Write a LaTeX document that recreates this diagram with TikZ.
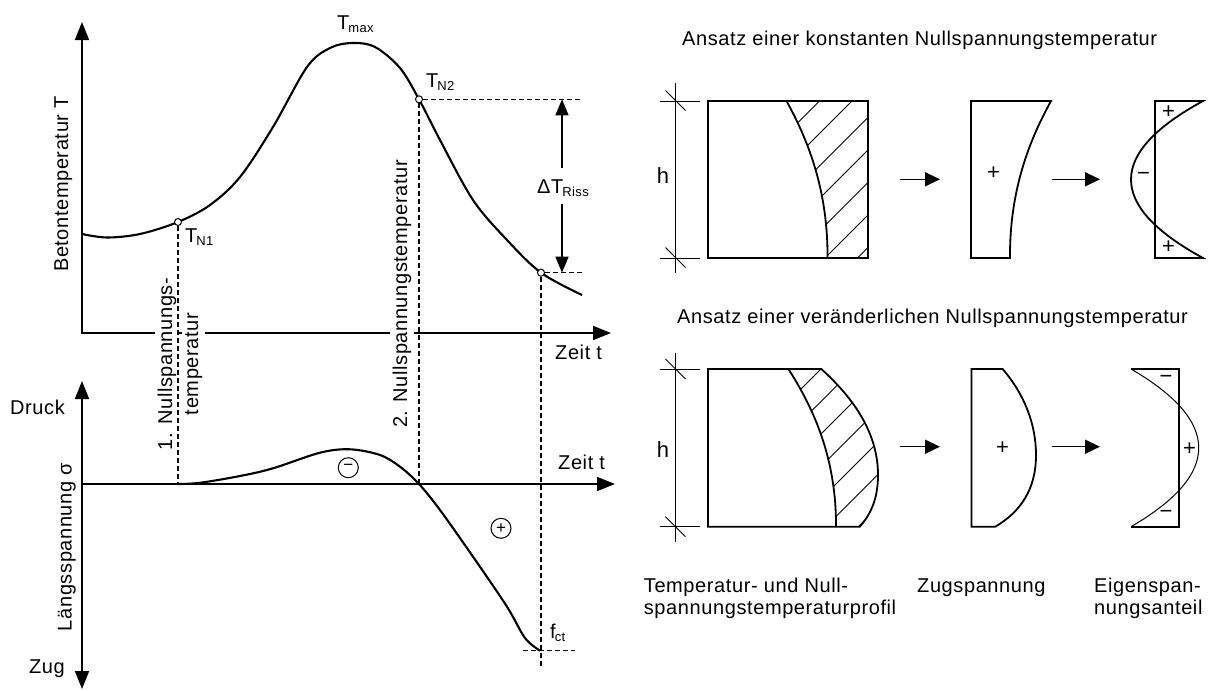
\documentclass[tikz,border=0pt]{standalone}
\usepackage{fontspec}
\setmainfont{Liberation Sans}[LetterSpace=3]
\usetikzlibrary{arrows.meta}
\newcommand\lsub[1]{\kern-1pt\raisebox{-3.5pt}{\fontsize{13}{13}\selectfont #1}}
\tikzset{
  every node/.style={inner sep=0pt, font=\fontsize{20}{23}\selectfont},
  axis/.style={line width=1.6pt, -{Triangle[length=18pt,width=14pt]}},
  axisboth/.style={line width=1.6pt, {Triangle[length=18pt,width=14pt]}-{Triangle[length=18pt,width=14pt]}},
  curve/.style={line width=2.1pt},
  dsh/.style={line width=1.1pt, dash pattern=on 5pt off 3pt},
  pt/.style={circle, draw, fill=white, line width=1pt, minimum size=7pt},
  rotlab/.style={rotate=90, anchor=base, fill=white, inner sep=3pt},
  dimarrow/.style={line width=1.4pt, -{Triangle[length=16pt,width=13pt]}},
  shapeline/.style={line width=1.8pt, line join=miter},
  hatchline/.style={line width=0.8pt},
  dimline/.style={line width=0.8pt},
  flowarrow/.style={line width=1.5pt, -{Triangle[length=15pt,width=14pt]}},
  circsign/.style={circle, draw, line width=1pt, minimum size=20pt, font=\fontsize{17}{17}\selectfont},
  sign/.style={font=\fontsize{22}{22}\selectfont},
  hlab/.style={font=\fontsize{22}{22}\selectfont},
}
\begin{document}
\begin{tikzpicture}[x=1pt,y=-1pt]
\path[use as bounding box] (0,0) rectangle (1208,691);
% ---------------- top graph ----------------
\coordinate (Y1) at (82,22);
\coordinate (O1) at (82,333);
\coordinate (X1) at (611,333);
\draw[axisboth] (Y1) -- (O1) -- (X1);
\draw[curve] plot[smooth, tension=0.55] coordinates {(82,234) (107,237.5) (140,234) (178,222) (210,205) (240,177) (273,127) (307,67) (330,48) (352,43) (375,47) (400,68) (419,99.3) (440,140) (473,200) (507,240) (541,272.7) (582,295)};
% ---------------- bottom graph ----------------
\coordinate (Y2t) at (82,381);
\coordinate (Y2b) at (82,689);
\coordinate (O2) at (82,484);
\coordinate (X2) at (615,484);
\draw[axisboth] (Y2t) -- (Y2b);
\draw[axis] (O2) -- (X2);
\draw[curve] plot[smooth, tension=0.55] coordinates {(178,484) (200,482.8) (240,476) (273,468.3) (320,452.7) (350,449.3) (380,455) (400,466.7) (419,484) (440,510) (473,556.7) (507,606.7) (525,638) (540,650.7)};
% rotated labels (white background interrupts the axis)
\node[rotlab] (nl1a) at (172,364) {1. Nullspannungs-};
\node[rotlab] (nl1b) at (198,364) {temperatur};
\node[rotlab] (nl2) at (407,294) {2. Nullspannungstemperatur};
\node[rotate=90, anchor=base] (ylab1) at (68,184) {Betontemperatur T};
\node[rotate=90, anchor=base] (ylab2) at (71.5,547) {Längsspannung σ};
% points
\node[pt] (N1) at (178,222) {};
\node[pt] (N2) at (419,99.3) {};
\node[pt] (N3) at (541,272.7) {};
\coordinate (Z1) at (178,484);
\coordinate (Z2) at (419,484);
\coordinate (Z3) at (541,668);
\coordinate (H2) at (582,99.3);
\coordinate (H3) at (582,272.7);
\coordinate (F1) at (523,650.7);
\coordinate (F2) at (575,650.7);
\draw[dsh] (N1) -- (Z1);
\draw[dsh] (N2) -- (Z2);
\draw[dsh] (N3) -- (Z3);
\draw[dsh] (N2) -- (H2);
\draw[dsh] (N3) -- (H3);
\draw[dsh] (F1) -- (F2);
% Delta T arrow
\node[anchor=base west] (dT) at (537,193) {ΔT\lsub{Riss}};
\coordinate (dA) at (562,99.3);
\coordinate (dAm) at (562,168);
\coordinate (dB) at (562,272.7);
\coordinate (dBm) at (562,204);
\draw[dimarrow] (dAm) -- (dA);
\draw[dimarrow] (dBm) -- (dB);
% labels
\node[anchor=base west] (tmax) at (337,29) {T\lsub{max}};
\node[anchor=base west] (tn2) at (426,87) {T\lsub{N2}};
\node[anchor=base west] (tn1) at (185,242) {T\lsub{N1}};
\node[anchor=base west] (fct) at (550,638) {f\lsub{ct}};
\node[anchor=base west] (zeit1) at (555,359) {Zeit t};
\node[anchor=base west] (zeit2) at (558,469) {Zeit t};
\node[anchor=base east] (druck) at (65,414) {Druck};
\node[anchor=base east] (zug) at (65,673) {Zug};
\node[circsign] (cminus) at (348.3,467.7) {−};
\node[circsign] (cplus) at (501,528.3) {+};
% ---------------- right, top ----------------
\node[anchor=base west] (title1) at (682,45) {Ansatz einer konstanten Nullspannungstemperatur};
\draw[dimline] (675.5,83) -- (675.5,273);
\draw[dimline] (660,101) -- (700,101);
\draw[dimline] (660,258) -- (700,258);
\draw[dimline] (665.5,90.5) -- (685.5,110.5);
\draw[dimline] (665.5,247.5) -- (685.5,267.5);
\node[hlab] (h1) at (663,176) {h};
\begin{scope}
  \clip (786.5,101) .. controls (808,140) and (828,190) .. (827.5,258) -- (868,258) -- (868,101) -- cycle;
  \foreach \k in {920.5,953,985.5,1018,1050.5,1083,1115.5}
    \draw[hatchline] ({\k-90},90) -- ({\k-270},270);
\end{scope}
\draw[shapeline] (708,101) rectangle (868,258);
\draw[shapeline] (786.5,101) .. controls (808,140) and (828,190) .. (827.5,258);
\coordinate (a1s) at (900,179.3);
\coordinate (a1e) at (940,179.3);
\draw[flowarrow] (a1s) -- (a1e);
\draw[shapeline] (971,258) -- (971,101) -- (1051,101) .. controls (1029.5,140) and (1009.5,190) .. (1010,258) -- cycle;
\node[sign] (p1) at (993.5,173) {+};
\coordinate (a2s) at (1052,179.3);
\coordinate (a2e) at (1100,179.3);
\draw[flowarrow] (a2s) -- (a2e);
\draw[shapeline] (1203,101) -- (1155,101) -- (1155,258) -- (1203,258) .. controls (1107,205.7) and (1107,153.3) .. (1203,101) -- cycle;
\node[sign] (p2) at (1168.6,112) {+};
\node[sign] (p3) at (1168.6,247) {+};
\node[sign] (m1) at (1143.6,176) {−};
% ---------------- right, bottom ----------------
\node[anchor=base west] (title2) at (677,323) {Ansatz einer veränderlichen Nullspannungstemperatur};
\draw[dimline] (675.5,353) -- (675.5,542);
\draw[dimline] (660,369) -- (700,369);
\draw[dimline] (660,526.7) -- (700,526.7);
\draw[dimline] (665.5,359) -- (685.5,379);
\draw[dimline] (665.5,516.7) -- (685.5,536.7);
\node[hlab] (h2) at (663,450) {h};
\begin{scope}
  \clip (788.4,369) -- (821.3,369) .. controls (850,395) and (878,430) .. (878,475) .. controls (878,500) and (870,515) .. (859.8,526.7) -- (836,526.7) .. controls (836.4,458) and (813.4,408) .. (788.4,369) -- cycle;
  \foreach \k in {1190,1222.5,1255,1287.5,1320,1352.5,1385}
    \draw[hatchline] ({\k-360},360) -- ({\k-540},540);
\end{scope}
\draw[shapeline] (708,369) -- (821.3,369) .. controls (850,395) and (878,430) .. (878,475) .. controls (878,500) and (870,515) .. (859.8,526.7) -- (708,526.7) -- cycle;
\draw[shapeline] (788.4,369) .. controls (813.4,408) and (836.4,458) .. (836,526.7);
\coordinate (b1s) at (900,446.7);
\coordinate (b1e) at (940,446.7);
\draw[flowarrow] (b1s) -- (b1e);
\draw[shapeline] (971.5,369) -- (1002.6,369) .. controls (1025,395) and (1036,425) .. (1036,455) .. controls (1036,490) and (1020,512) .. (995.3,526.7) -- (971.5,526.7) -- cycle;
\node[sign] (p4) at (1002.6,448) {+};
\coordinate (b2s) at (1052,446.7);
\coordinate (b2e) at (1100,446.7);
\draw[flowarrow] (b2s) -- (b2e);
\draw[shapeline] (1131,369) -- (1179,369) -- (1179,526.7) -- (1131,526.7);
\draw[line width=1pt] (1131,369) .. controls (1221.3,421.6) and (1221.3,474.1) .. (1131,526.7);
\node[sign] (m2) at (1166,379) {−};
\node[sign] (p5) at (1189.5,449) {+};
\node[sign] (m3) at (1166,514) {−};
% ---------------- bottom captions ----------------
\node[anchor=base west] (c1a) at (643.7,592) {Temperatur- und Null-};
\node[anchor=base west] (c1b) at (643.7,614) {spannungstemperaturprofil};
\node[anchor=base west] (c2) at (917,592) {Zugspannung};
\node[anchor=base west] (c3a) at (1094,592) {Eigenspan-};
\node[anchor=base west] (c3b) at (1094,614) {nungsanteil};
\end{tikzpicture}
\end{document}
